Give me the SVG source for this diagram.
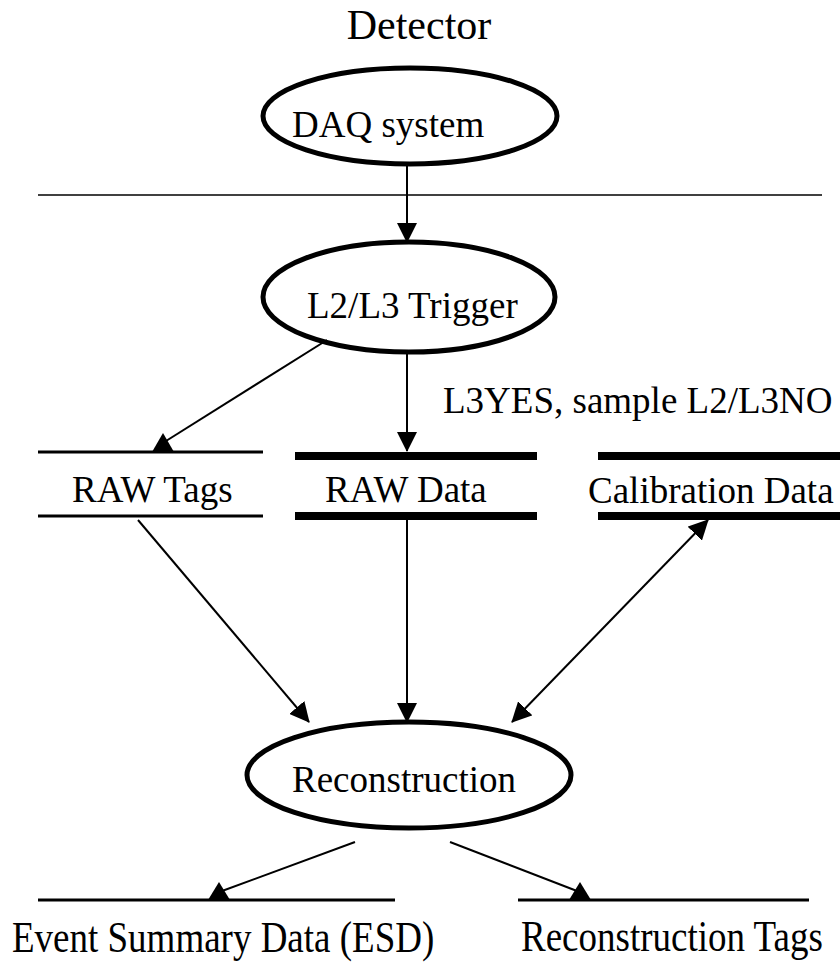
<svg xmlns="http://www.w3.org/2000/svg" width="840" height="962" viewBox="0 0 840 962">
<style>
text{font-family:"Liberation Serif","Times New Roman",serif;fill:#000}
.t37{font-size:37px}
.node{fill:none;stroke:#000;stroke-width:5}
.thin{stroke:#000;stroke-width:3}
.bar{stroke:#000;stroke-width:8}
.conn{stroke:#000;stroke-width:2;fill:none}
.tri{fill:#000}
</style>
<defs>
<marker id="ah" markerUnits="userSpaceOnUse" markerWidth="20" markerHeight="20" refX="19" refY="10" orient="auto-start-reverse" viewBox="0 0 20 20">
<path d="M0,0 L20,10 L0,20 Z" fill="#000"/>
</marker>
</defs>
<rect width="840" height="962" fill="#fff"/>
<text id="detector" x="419" y="39" font-size="42" text-anchor="middle">Detector</text>
<g id="daq">
<ellipse class="node" cx="410" cy="116" rx="147" ry="48"/>
<text class="t37" x="292" y="137">DAQ system</text>
</g>
<line x1="38" y1="195" x2="822" y2="195" stroke="#000" stroke-width="1.5"/>
<g id="trigger">
<ellipse class="node" cx="409" cy="297" rx="146" ry="55"/>
<text class="t37" x="307" y="318">L2/L3 Trigger</text>
</g>
<text id="label-l3yes" class="t37" x="443" y="413">L3YES, sample L2/L3NO</text>
<g id="rawtags">
<line class="thin" x1="38" y1="452" x2="263" y2="452"/>
<line class="thin" x1="38" y1="516" x2="263" y2="516"/>
<text class="t37" x="72" y="502">RAW Tags</text>
</g>
<g id="rawdata">
<line class="bar" x1="295" y1="456" x2="537" y2="456"/>
<line class="bar" x1="295" y1="516" x2="537" y2="516"/>
<text class="t37" x="325" y="502">RAW Data</text>
</g>
<g id="calib">
<line class="bar" x1="598" y1="456" x2="840" y2="456"/>
<line class="bar" x1="598" y1="516" x2="840" y2="516"/>
<text class="t37" x="588" y="503">Calibration Data</text>
</g>
<g id="reco">
<ellipse class="node" cx="409" cy="775" rx="162" ry="53"/>
<text class="t37" x="292" y="792">Reconstruction</text>
</g>
<g id="esd">
<line class="thin" x1="38" y1="900" x2="395" y2="900"/>
<text class="t37" transform="translate(12,952) scale(1,1.22)">Event Summary Data (ESD)</text>
</g>
<g id="recotags">
<line class="thin" x1="518" y1="900" x2="809" y2="900"/>
<text class="t37" transform="translate(521,951) scale(1,1.22)">Reconstruction Tags</text>
</g>
<g id="connectors">
<line class="conn" x1="407" y1="165" x2="407" y2="242" marker-end="url(#ah)"/>
<line class="conn" x1="407" y1="354" x2="407" y2="451" marker-end="url(#ah)"/>
<line class="conn" x1="327" y1="340" x2="166" y2="441"/>
<polygon class="tri" points="163,433 152,452 174,452"/>
<line class="conn" x1="138" y1="520" x2="309" y2="722" marker-end="url(#ah)"/>
<line class="conn" x1="407" y1="520" x2="407" y2="722" marker-end="url(#ah)"/>
<line class="conn" x1="512" y1="722" x2="708" y2="520" marker-start="url(#ah)" marker-end="url(#ah)"/>
<line class="conn" x1="355" y1="842" x2="222" y2="891"/>
<polygon class="tri" points="219,882 208,900 230,900"/>
<line class="conn" x1="450" y1="842" x2="577" y2="891"/>
<polygon class="tri" points="580,882 569,900 591,900"/>
</g>
</svg>
